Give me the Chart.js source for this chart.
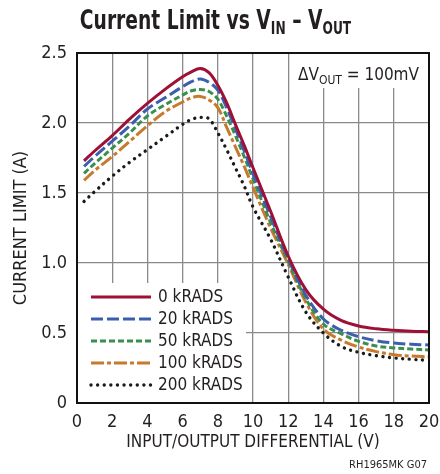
<!DOCTYPE html>
<html><head><meta charset="utf-8">
<script src="https://cdn.jsdelivr.net/npm/chart.js@4"></script>
<style>html,body{margin:0;padding:0;background:#fff}#wrap{width:440px;height:474px;position:relative}</style>
</head><body><div id="wrap"><canvas id="c"></canvas></div>
<script>
const xValues = [0.4,1,2,3,4,5,6,6.5,7,7.5,8,8.5,9,9.5,10,11,12,13,14,15,16,17,18,19,20];
const rads0   = [1.73,1.80,1.91,2.03,2.14,2.24,2.33,2.365,2.39,2.36,2.27,2.145,1.99,1.84,1.68,1.37,1.05,0.81,0.67,0.59,0.55,0.53,0.519,0.512,0.509];
const rads20  = [1.69,1.76,1.87,1.98,2.10,2.18,2.26,2.295,2.315,2.29,2.235,2.11,1.96,1.80,1.64,1.33,1.03,0.77,0.60,0.52,0.474,0.445,0.428,0.42,0.414];
const rads50  = [1.64,1.71,1.82,1.93,2.05,2.13,2.20,2.23,2.24,2.225,2.17,2.05,1.91,1.76,1.60,1.29,1.01,0.745,0.564,0.495,0.44,0.407,0.393,0.385,0.379];
const rads100 = [1.59,1.66,1.76,1.87,1.98,2.08,2.15,2.18,2.19,2.165,2.11,1.97,1.83,1.69,1.54,1.25,0.99,0.72,0.528,0.45,0.40,0.367,0.345,0.335,0.33];
const rads200 = [1.44,1.51,1.62,1.72,1.81,1.90,1.99,2.025,2.04,2.03,1.93,1.81,1.68,1.55,1.40,1.17,0.90,0.65,0.50,0.405,0.362,0.338,0.322,0.312,0.305];
const seriesLabels = ['0 kRADS','20 kRADS','50 kRADS','100 kRADS','200 kRADS'];
const xTicks = [0,2,4,6,8,10,12,14,16,18,20];
const yTicks = [0,0.5,1.0,1.5,2.0,2.5];

const FONT = '"DejaVu Sans Condensed","Liberation Sans Narrow","Liberation Sans",sans-serif';
const TXT = '#231f20';

const styles = [
  {color:'#9e1035', dash:[], cap:'butt'},
  {color:'#3b5fae', dash:[12,4], cap:'butt'},
  {color:'#3a8f4f', dash:[6,3], cap:'butt'},
  {color:'#c77a2c', dash:[13,3,4,3], cap:'butt'},
  {color:'#1a1a1a', dash:[0.01,6.6], cap:'round'}
];
const allSeries = [rads0, rads20, rads50, rads100, rads200];

const datasets = allSeries.map((vals,i)=>({
  label: seriesLabels[i],
  data: xValues.map((x,j)=>({x:x, y:vals[j]})),
  borderColor: styles[i].color,
  borderDash: styles[i].dash,
  borderCapStyle: styles[i].cap,
  borderWidth: i===4 ? 3.4 : 3,
  pointRadius: 0,
  tension: 0.35,
  fill: false
}));

function squeezeText(ctx, text, x, y, sx){
  ctx.save(); ctx.translate(x, y); ctx.scale(sx, 1); ctx.fillText(text, 0, 0); ctx.restore();
  return ctx.measureText(text).width * sx;
}

const decor = {
  id:'decor',
  afterDraw(chart){
    const ctx = chart.ctx, a = chart.chartArea;
    ctx.save();
    ctx.strokeStyle = '#111'; ctx.lineWidth = 2;
    ctx.strokeRect(a.left, a.top, a.right-a.left, a.bottom-a.top);
    // legend
    ctx.fillStyle = '#fff';
    ctx.fillRect(a.left+1, 283, 168, a.bottom-284);
    const rows = [297,319,341,363,385];
    chart.data.datasets.forEach((d,i)=>{
      ctx.beginPath();
      ctx.strokeStyle = d.borderColor; ctx.lineWidth = d.borderWidth;
      ctx.setLineDash(d.borderDash); ctx.lineCap = d.borderCapStyle;
      ctx.moveTo(91, rows[i]); ctx.lineTo(151, rows[i]); ctx.stroke();
      ctx.setLineDash([]); ctx.lineCap='butt';
      ctx.fillStyle = TXT; ctx.font = '17px '+FONT;
      ctx.textAlign='left'; ctx.textBaseline='middle';
      ctx.fillText(d.label, 158, rows[i]+1);
    });
    // annotation
    ctx.fillStyle = '#fff';
    ctx.fillRect(291, a.top+1, a.right-292, 34);
    ctx.fillStyle = TXT; ctx.textBaseline='alphabetic'; ctx.textAlign='left';
    let x = 298;
    ctx.font = '17px '+FONT; ctx.fillText('\u0394V', x, 80); x += ctx.measureText('\u0394V').width;
    ctx.font = '12px '+FONT; ctx.fillText('OUT', x, 84); x += ctx.measureText('OUT').width;
    ctx.font = '17px '+FONT; ctx.fillText(' = 100mV', x, 80);
    // title
    const sx = 0.8;
    const parts = [['Current Limit vs V',26,0],['IN',17,5],[' \u2013 V',26,0],['OUT',17,5]];
    let w = 0;
    parts.forEach(p=>{ctx.font='bold '+p[1]+'px '+FONT; w += ctx.measureText(p[0]).width*sx;});
    x = 215.5 - w/2;
    parts.forEach(p=>{ctx.font='bold '+p[1]+'px '+FONT; x += squeezeText(ctx, p[0], x, 29+p[2], sx);});
    // footnote
    ctx.font = '11px '+FONT; ctx.textAlign='right';
    ctx.fillText('RH1965MK G07', 427, 468);
    ctx.restore();
  }
};

new Chart(document.getElementById('c'), {
  type:'line',
  data:{datasets},
  plugins:[decor],
  options:{
    responsive:true, maintainAspectRatio:false, animation:false,
    layout:{padding:{top:53,right:0,left:0,bottom:0}},
    plugins:{legend:{display:false}, tooltip:{enabled:false}},
    scales:{
      x:{type:'linear', min:0, max:20,
        afterBuildTicks(s){ s.ticks = xTicks.map(v=>({value:v})); },
        afterFit(s){ s.height = 71; s.paddingRight = 11; s.paddingLeft = 0; },
        grid:{color:'#8a8a8a', lineWidth:1.3, drawTicks:false},
        border:{display:true, color:'#111', width:2},
        ticks:{padding:9, color:TXT, font:{family:FONT,size:18}, maxRotation:0, autoSkip:false},
        title:{display:true, text:'INPUT/OUTPUT DIFFERENTIAL (V)', color:TXT, font:{family:FONT,size:17}, padding:{top:0,bottom:21}}
      },
      y:{type:'linear', min:0, max:2.5,
        afterBuildTicks(s){ s.ticks = yTicks.map(v=>({value:v})); },
        afterFit(s){ s.width = 77; },
        grid:{color:'#8a8a8a', lineWidth:1.3, drawTicks:false},
        border:{display:true, color:'#111', width:2},
        ticks:{padding:10, color:TXT, font:{family:FONT,size:18}, callback:v=> v===0?'0':v.toFixed(1)},
        title:{display:true, text:'CURRENT LIMIT (A)', color:TXT, font:{family:FONT,size:18}, padding:{top:11,bottom:0}}
      }
    }
  }
});
</script></body></html>
